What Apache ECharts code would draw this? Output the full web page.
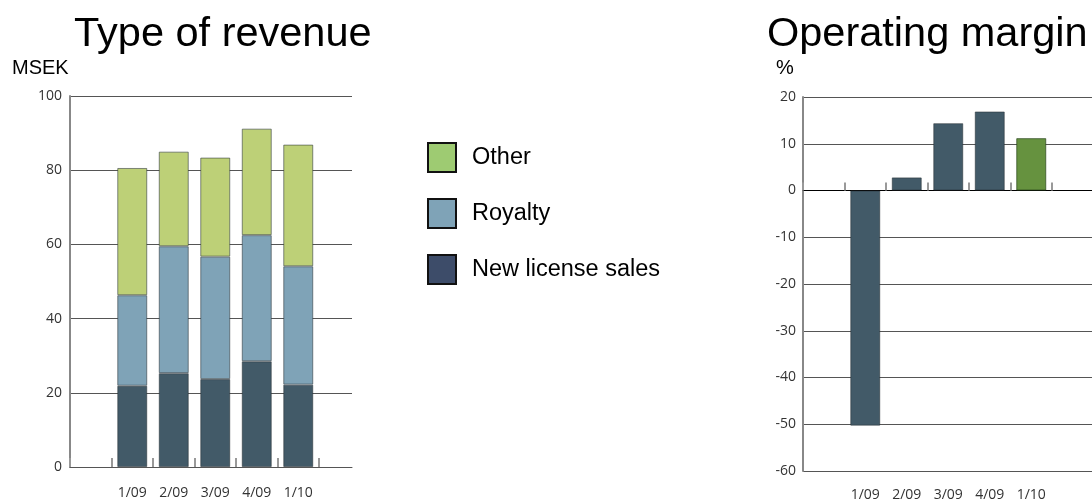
<!DOCTYPE html>
<html>
<head>
<meta charset="utf-8">
<script src="https://cdn.jsdelivr.net/npm/echarts@6/dist/echarts.min.js"></script>
<style>
  html, body { margin: 0; padding: 0; background: #fff; }
  #chart { width: 1092px; height: 503px; }
</style>
</head>
<body>
<div id="chart"></div>
<script>
// Quarters shown on both panels
const quarters = ['1/09', '2/09', '3/09', '4/09', '1/10'];

// Revenue by type, MSEK
const newLicenseSales = [21.9, 25.3, 23.7, 28.5, 22.2];
const royalty = [24.4, 34.2, 33.0, 34.0, 31.9];
const other = [34.3, 25.5, 26.7, 28.7, 32.8];

// Operating margin, %
const operatingMargin = [-50.3, 2.8, 14.4, 16.9, 11.2];
const latestQuarter = '1/10';

// Axis ranges and steps
const revenueAxis = { min: 0, max: 100, interval: 20 };
const marginAxis = { min: -60, max: 20, interval: 10 };

// An empty leading slot keeps the first bar clear of the value axis
const cats = [''].concat(quarters);
const pad = arr => ['-'].concat(arr);

const LABEL_FONT = { fontFamily: 'Open Sans', fontSize: 14, color: '#333' };
const TITLE_FONT = { fontFamily: 'Liberation Sans', fontSize: 41.5, fontWeight: 'normal', color: '#000' };
const UNIT_FONT = { fontFamily: 'Liberation Sans', fontSize: 20, fontWeight: 'normal', color: '#000' };
const barBorder = { borderColor: 'rgba(40,50,55,0.55)', borderWidth: 1 };

const chart = echarts.init(document.getElementById('chart'), null, { renderer: 'canvas' });

chart.setOption({
  animation: false,
  backgroundColor: '#fff',
  title: [
    { text: 'Type of revenue', left: 69, top: 9, textStyle: TITLE_FONT },
    { text: 'Operating margin', left: 762, top: 9, textStyle: TITLE_FONT },
    { text: 'MSEK', left: 7, top: 53, textStyle: UNIT_FONT },
    { text: '%', left: 771, top: 53, textStyle: UNIT_FONT }
  ],
  legend: {
    orient: 'vertical',
    left: 422, top: 137,
    itemWidth: 28, itemHeight: 29, itemGap: 25,
    icon: 'rect',
    selectedMode: false,
    textStyle: { fontFamily: 'Liberation Sans', fontSize: 23.5, color: '#000', padding: [0, 0, 0, 11] },
    data: [
      { name: 'Other', itemStyle: { color: '#9ECB72', borderColor: '#111', borderWidth: 2 } },
      { name: 'Royalty', itemStyle: { color: '#7FA3B7', borderColor: '#111', borderWidth: 2 } },
      { name: 'New license sales', itemStyle: { color: '#3D4C69', borderColor: '#111', borderWidth: 2 } }
    ]
  },
  grid: [
    { left: 70, top: 96, width: 249, height: 371 },   // revenue bars
    { left: 70, top: 96, width: 282, height: 371 },   // revenue frame and grid lines
    { left: 803, top: 97, width: 249, height: 374 },  // margin bars
    { left: 803, top: 97, width: 320, height: 374 }   // margin frame and grid lines
  ],
  xAxis: [
    { type: 'category', gridIndex: 0, data: cats, boundaryGap: true,
      axisLine: { show: false },
      axisTick: { show: true, inside: true, length: 9, lineStyle: { color: '#999', width: 2 } },
      axisLabel: Object.assign({ margin: 19 }, LABEL_FONT) },
    { type: 'category', gridIndex: 1, data: cats,
      axisLine: { show: true, lineStyle: { color: '#555', width: 1 } },
      axisTick: { show: false }, axisLabel: { show: false } },
    { type: 'category', gridIndex: 2, data: cats, position: 'bottom',
      axisLine: { show: false, onZero: false },
      axisTick: { show: false },
      axisLabel: Object.assign({ margin: 17 }, LABEL_FONT) },
    { type: 'category', gridIndex: 2, data: cats,
      axisLine: { show: true, onZero: true, lineStyle: { opacity: 0 } },
      axisTick: { show: true, length: 8, lineStyle: { color: '#999', width: 2 } },
      axisLabel: { show: false } },
    { type: 'category', gridIndex: 3, data: cats,
      axisLine: { show: true, onZero: true, lineStyle: { color: '#000', width: 1 } },
      axisTick: { show: false }, axisLabel: { show: false } }
  ],
  yAxis: [
    Object.assign({ type: 'value', gridIndex: 0, show: false, splitLine: { show: false } }, revenueAxis),
    Object.assign({ type: 'value', gridIndex: 1,
      axisLine: { show: true, lineStyle: { color: '#888', width: 2 } },
      axisTick: { show: false },
      axisLabel: Object.assign({ margin: 8 }, LABEL_FONT),
      splitLine: { show: true, lineStyle: { color: '#555', width: 1 } } }, revenueAxis),
    Object.assign({ type: 'value', gridIndex: 2, show: false, splitLine: { show: false } }, marginAxis),
    Object.assign({ type: 'value', gridIndex: 3,
      axisLine: { show: true, lineStyle: { color: '#888', width: 2 } },
      axisTick: { show: false },
      axisLabel: Object.assign({ margin: 7 }, LABEL_FONT),
      splitLine: { show: true, lineStyle: { color: '#555', width: 1 } } }, marginAxis)
  ],
  series: [
    { name: 'New license sales', type: 'bar', stack: 'rev', xAxisIndex: 0, yAxisIndex: 0,
      barWidth: 30, data: pad(newLicenseSales),
      itemStyle: Object.assign({ color: '#425A68' }, barBorder) },
    { name: 'Royalty', type: 'bar', stack: 'rev', xAxisIndex: 0, yAxisIndex: 0,
      barWidth: 30, data: pad(royalty),
      itemStyle: Object.assign({ color: '#7FA3B7' }, barBorder) },
    { name: 'Other', type: 'bar', stack: 'rev', xAxisIndex: 0, yAxisIndex: 0,
      barWidth: 30, data: pad(other),
      itemStyle: Object.assign({ color: '#BDD077' }, barBorder) },
    { name: 'Operating margin', type: 'bar', xAxisIndex: 2, yAxisIndex: 2,
      barWidth: 30,
      data: pad(operatingMargin.map((v, i) => quarters[i] === latestQuarter
        ? { value: v, itemStyle: { color: '#66923F', borderColor: 'rgba(40,70,25,0.7)' } }
        : v)),
      itemStyle: Object.assign({ color: '#425A68' }, barBorder) }
  ]
});
</script>
</body>
</html>
